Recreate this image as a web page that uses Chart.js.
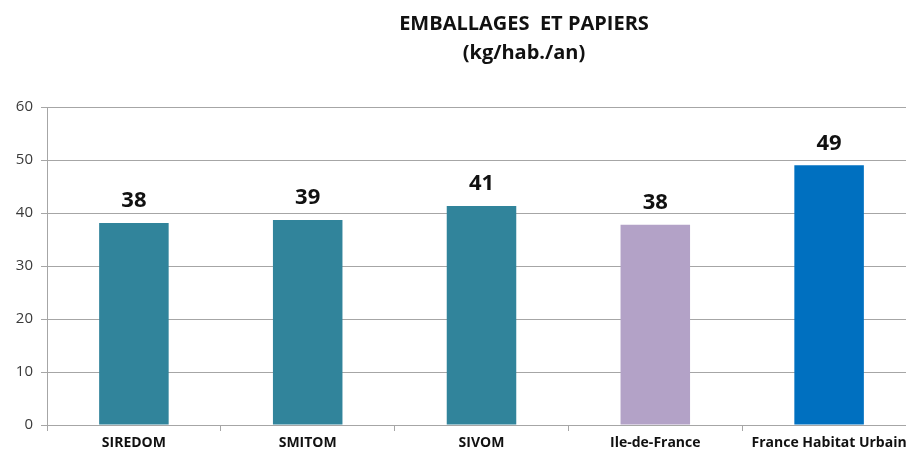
<html>
    <head>
        <script src="https://cdn.jsdelivr.net/npm/chart.js"></script>
        <style>
            body { margin: 0; overflow: hidden; background: #fff; }
            .wrap { position: relative; width: 918px; height: 455px; }
            .title {
                position: absolute; left: 0; width: 1048px; top: 8px;
                text-align: center; font-family: "Open Sans", sans-serif;
                font-weight: bold; font-size: 20px; line-height: 29px; color: #111;
            }
        </style>
    </head>
    <body>
        <div class="wrap">
            <canvas id="myChart" width="918" height="455"></canvas>
            <div class="title">EMBALLAGES&nbsp; ET PAPIERS<br>(kg/hab./an)</div>
        </div>
    </body>
    <script>
        const categories = ["SIREDOM", "SMITOM", "SIVOM", "Ile-de-France", "France Habitat Urbain"];
        const values = [38.1, 38.7, 41.3, 37.8, 49.0];
        const barColors = ["#31849B", "#31849B", "#31849B", "#B3A2C7", "#0070C0"];
        const yTicks = [0, 10, 20, 30, 40, 50, 60];

        const valueLabels = {
            id: 'valueLabels',
            afterDatasetsDraw(chart) {
                const ctx = chart.ctx;
                const meta = chart.getDatasetMeta(0);
                ctx.save();
                ctx.font = 'bold 22px "Open Sans", sans-serif';
                ctx.fillStyle = '#111';
                ctx.textAlign = 'center';
                ctx.textBaseline = 'bottom';
                meta.data.forEach((bar, i) => {
                    ctx.fillText(Math.round(values[i]), bar.x, bar.y - 11);
                });
                ctx.restore();
            }
        };

        function drawChart(){
            const ctx = document.getElementById('myChart');
            const data = {
                labels: categories,
                datasets: [{
                    data: values,
                    backgroundColor: barColors,
                    borderWidth: 0,
                    barPercentage: 0.4,
                    categoryPercentage: 1.0
                }]
            };

            const config = {
                type: 'bar',
                data: data,
                plugins: [valueLabels],
                options: {
                    responsive: false,
                    animation: false,
                    layout: {
                        padding: { top: 107, right: 2, left: 0, bottom: 0 }
                    },
                    scales: {
                        y: {
                            min: 0,
                            max: 60,
                            afterBuildTicks: (axis) => {
                                axis.ticks = yTicks.map(v => ({ value: v }));
                            },
                            afterFit: (axis) => { axis.width = 47; },
                            ticks: {
                                color: '#3a3a3a',
                                font: { family: '"Open Sans", sans-serif', size: 15 },
                                padding: 8
                            },
                            grid: {
                                color: '#a6a6a6',
                                tickLength: 6,
                                lineWidth: 1
                            },
                            border: { color: '#a6a6a6' }
                        },
                        x: {
                            afterFit: (axis) => { axis.height = 30; },
                            ticks: {
                                color: '#111',
                                font: { family: '"Open Sans", sans-serif', size: 14, weight: 'bold' },
                                padding: 4,
                                maxRotation: 0
                            },
                            grid: {
                                offset: true,
                                drawOnChartArea: false,
                                color: '#a6a6a6',
                                tickLength: 6
                            },
                            border: { color: '#a6a6a6' }
                        }
                    },
                    plugins: {
                        legend: { display: false },
                        tooltip: { enabled: false }
                    }
                }
            };

            new Chart(ctx, config);
        }
        drawChart();
    </script>
</html>
